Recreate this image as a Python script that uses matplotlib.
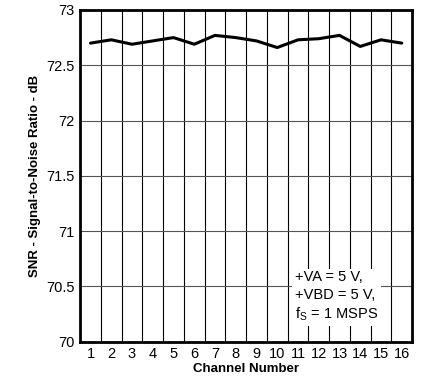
"""SNR vs channel number"""
import numpy as np
import matplotlib
matplotlib.use('Agg')
import matplotlib.pyplot as plt

plt.rcParams['font.family'] = ['Liberation Sans', 'DejaVu Sans']

channels = np.arange(1, 17)
snr = [72.70, 72.73, 72.69, 72.72, 72.75, 72.69, 72.77, 72.75,
       72.72, 72.66, 72.73, 72.74, 72.77, 72.67, 72.73, 72.70]
yticks = [70, 70.5, 71, 71.5, 72, 72.5, 73]
ytick_labels = ['70', '70.5', '71', '71.5', '72', '72.5', '73']

fig = plt.figure(figsize=(4.24, 3.83), dpi=100)
ax = fig.add_axes([0.189, 0.108, 0.783, 0.866])

# grid lines between channels
for xv in np.arange(1.5, 16.5, 1.0):
    ax.axvline(xv, color='black', lw=0.8, zorder=1)
for yv in yticks[1:-1]:
    ax.axhline(yv, color='#555555', lw=0.8, zorder=1)

ax.plot(channels, snr, color='black', lw=2.2, solid_joinstyle='round',
        solid_capstyle='round', zorder=3)

ax.set_xlim(0.5, 16.5)
ax.set_ylim(70, 73)
ax.set_xticks(channels)
ax.set_xticklabels([str(c) for c in channels])
ax.set_yticks(yticks)
ax.set_yticklabels(ytick_labels)
ax.tick_params(length=0, labelsize=10.5, pad=4)
for s in ax.spines.values():
    s.set_linewidth(2)

ax.set_xlabel('Channel Number', fontsize=9.5, fontweight='bold', labelpad=1)
ax.set_ylabel('SNR - Signal-to-Noise Ratio - dB', fontsize=9.5,
              fontweight='bold', labelpad=4)

ax.text(0.648, 0.055, '+VA = 5 V,\n+VBD = 5 V,\nf$_\\mathregular{S}$ = 1 MSPS',
        transform=ax.transAxes, fontsize=10.5, linespacing=1.3,
        va='bottom', ha='left', zorder=4,
        bbox=dict(facecolor='white', edgecolor='none', pad=2))

fig.savefig('out.png', dpi=100)
